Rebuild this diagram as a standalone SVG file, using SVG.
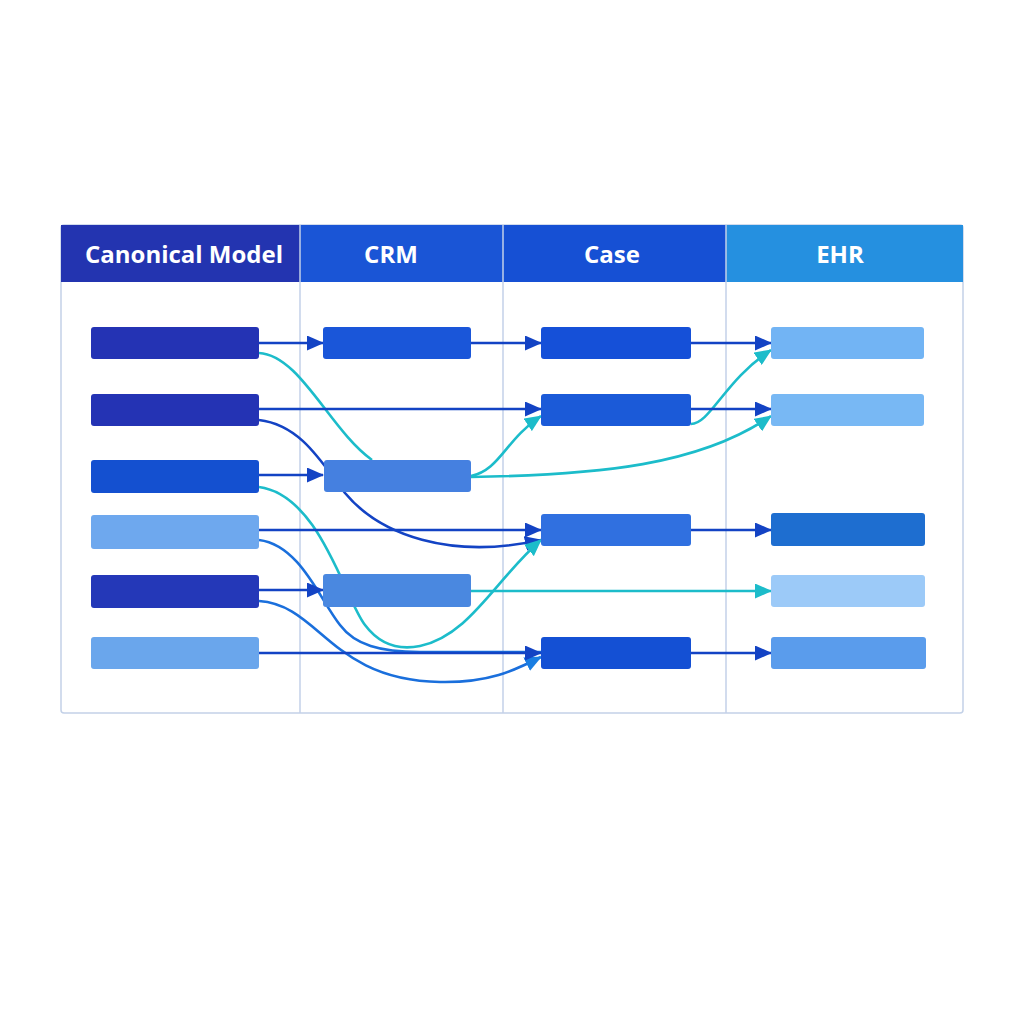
<svg xmlns="http://www.w3.org/2000/svg" width="1024" height="1024" viewBox="0 0 1024 1024">
<defs>
<marker id="aN" markerUnits="userSpaceOnUse" markerWidth="17" markerHeight="15" refX="16" refY="7.5" orient="auto"><path d="M0,0 L17,7.5 L0,15 Z" fill="#1343c4"/></marker>
<marker id="aT" markerUnits="userSpaceOnUse" markerWidth="17" markerHeight="15" refX="16" refY="7.5" orient="auto"><path d="M0,0 L17,7.5 L0,15 Z" fill="#1cbcca"/></marker>
<marker id="aB" markerUnits="userSpaceOnUse" markerWidth="17" markerHeight="15" refX="16" refY="7.5" orient="auto"><path d="M0,0 L17,7.5 L0,15 Z" fill="#1a7ee2"/></marker>
</defs>
<style>
.hd{font-family:"Open Sans","Noto Sans",sans-serif;font-weight:700;font-size:24px;fill:#fff;text-anchor:middle}
.n{fill:none;stroke:#1343c4;stroke-width:2.6}
.t{fill:none;stroke:#1cbcca;stroke-width:2.6}
.b{fill:none;stroke:#1a6fdc;stroke-width:2.6}
.grid{fill:none;stroke:#c3d1e8;stroke-width:1.5}
</style>
<rect width="1024" height="1024" fill="#ffffff"/>
<g id="table">
<rect x="61" y="225" width="902" height="488" rx="3" fill="#fdfeff" class="grid"/>
<rect x="61" y="225" width="239" height="57" fill="#2334b0"/>
<rect x="300" y="225" width="203" height="57" fill="#1a55d6"/>
<rect x="503" y="225" width="223" height="57" fill="#1650d4"/>
<rect x="726" y="225" width="237" height="57" fill="#2590e0"/>
<line x1="300" y1="225" x2="300" y2="713" class="grid"/>
<line x1="503" y1="225" x2="503" y2="713" class="grid"/>
<line x1="726" y1="225" x2="726" y2="713" class="grid"/>
<text x="184" y="263" class="hd">Canonical Model</text>
<text x="391" y="263" class="hd">CRM</text>
<text x="612" y="263" class="hd">Case</text>
<text x="840" y="263" class="hd">EHR</text>
</g>
<g id="connectors">
<path class="n" d="M259,343 H323" marker-end="url(#aN)"/>
<path class="n" d="M471,343 H541" marker-end="url(#aN)"/>
<path class="n" d="M691,343 H771" marker-end="url(#aN)"/>
<path class="t" d="M259,353 C300,355 330,430 372,460"/>
<path class="n" d="M259,409 H541" marker-end="url(#aN)"/>
<path class="n" d="M259,420 C300,425 320,460 345,493 C380,535 450,560 541,540" marker-end="url(#aN)"/>
<path class="n" d="M259,475 H323" marker-end="url(#aN)"/>
<path class="t" d="M259,487 C320,495 345,600 365,625 C380,645 400,650 420,646 C470,635 495,580 541,540" marker-end="url(#aT)"/>
<path class="n" d="M259,530 H541" marker-end="url(#aN)"/>
<path class="b" d="M259,540 C300,545 320,600 340,625 C355,645 380,652 420,652 H541"/>
<path class="n" d="M259,590 H323" marker-end="url(#aN)"/>
<path class="b" d="M259,601 C320,605 330,680 440,682 C490,683 515,670 541,657" marker-end="url(#aB)"/>
<path class="n" d="M259,653 H541" marker-end="url(#aN)"/>
<path class="t" d="M471,476 C500,470 505,440 541,416" marker-end="url(#aT)"/>
<path class="t" d="M471,477 C600,475 700,465 771,416" marker-end="url(#aT)"/>
<path class="t" d="M691,424 C710,424 725,380 771,350" marker-end="url(#aT)"/>
<path class="n" d="M691,409 H771" marker-end="url(#aN)"/>
<path class="n" d="M691,530 H771" marker-end="url(#aN)"/>
<path class="t" d="M471,591 H771" marker-end="url(#aT)"/>
<path class="n" d="M691,653 H771" marker-end="url(#aN)"/>
</g>
<g id="canon1"><rect x="91" y="327" width="168" height="32" rx="3" fill="#2433b4"/></g>
<g id="canon2"><rect x="91" y="394" width="168" height="32" rx="3" fill="#2433b4"/></g>
<g id="canon3"><rect x="91" y="460" width="168" height="33" rx="3" fill="#1450d0"/></g>
<g id="canon4"><rect x="91" y="515" width="168" height="34" rx="3" fill="#6ea8ee"/></g>
<g id="canon5"><rect x="91" y="575" width="168" height="33" rx="3" fill="#2438b8"/></g>
<g id="canon6"><rect x="91" y="637" width="168" height="32" rx="3" fill="#6aa6ec"/></g>
<g id="crm1"><rect x="323" y="327" width="148" height="32" rx="3" fill="#1a56d9"/></g>
<g id="crm2"><rect x="324" y="460" width="147" height="32" rx="3" fill="#4580e0"/></g>
<g id="crm3"><rect x="323" y="574" width="148" height="33" rx="3" fill="#4a88e0"/></g>
<g id="case1"><rect x="541" y="327" width="150" height="32" rx="3" fill="#1550d8"/></g>
<g id="case2"><rect x="541" y="394" width="150" height="32" rx="3" fill="#1b5ad8"/></g>
<g id="case3"><rect x="541" y="514" width="150" height="32" rx="3" fill="#3070e0"/></g>
<g id="case4"><rect x="541" y="637" width="150" height="32" rx="3" fill="#1450d4"/></g>
<g id="ehr1"><rect x="771" y="327" width="153" height="32" rx="3" fill="#72b4f4"/></g>
<g id="ehr2"><rect x="771" y="394" width="153" height="32" rx="3" fill="#78b8f4"/></g>
<g id="ehr3"><rect x="771" y="513" width="154" height="33" rx="3" fill="#1e6ed0"/></g>
<g id="ehr4"><rect x="771" y="575" width="154" height="32" rx="3" fill="#9ccaf8"/></g>
<g id="ehr5"><rect x="771" y="637" width="155" height="32" rx="3" fill="#5a9cec"/></g>
</svg>
